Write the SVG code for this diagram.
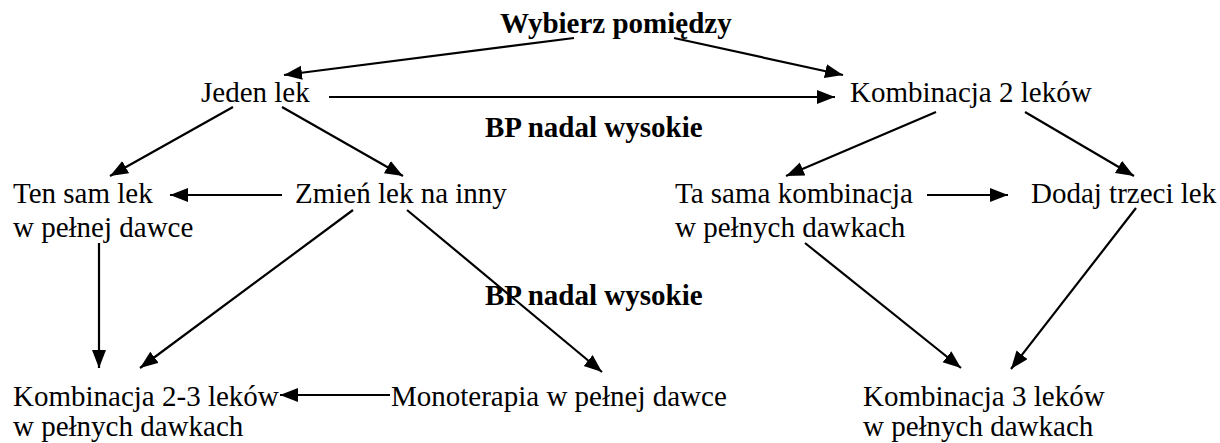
<svg xmlns="http://www.w3.org/2000/svg" width="1220" height="443" viewBox="0 0 1220 443">
<defs>
<style>
text{font-family:"Liberation Serif","Times New Roman",serif;font-size:29px;fill:#000}
.b{font-weight:bold}
.c line{stroke:#000;stroke-width:2.2;marker-end:url(#ah)}
</style>
<marker id="ah" markerUnits="userSpaceOnUse" markerWidth="20" markerHeight="16" refX="18" refY="7" orient="auto">
<path d="M0,0 L18,7 L0,14 z" fill="#000"/>
</marker>
</defs>
<rect width="1220" height="443" fill="#fff"/>
<g id="wybierz"><text class="b" x="500" y="33">Wybierz pomiędzy</text></g>
<g id="jeden"><text x="201" y="102">Jeden lek</text></g>
<g id="komb2"><text x="850" y="102">Kombinacja 2 leków</text></g>
<g id="bp1"><text class="b" x="485" y="137">BP nadal wysokie</text></g>
<g id="tensam"><text x="13" y="203">Ten sam lek</text><text x="13" y="237">w pełnej dawce</text></g>
<g id="zmien"><text x="295" y="203">Zmień lek na inny</text></g>
<g id="tasama"><text x="675" y="203">Ta sama kombinacja</text><text x="675" y="237">w pełnych dawkach</text></g>
<g id="dodaj"><text x="1031" y="203">Dodaj trzeci lek</text></g>
<g id="bp2"><text class="b" x="485" y="305">BP nadal wysokie</text></g>
<g id="komb23"><text x="13" y="406">Kombinacja 2-3 leków</text><text x="13" y="436">w pełnych dawkach</text></g>
<g id="mono"><text x="391" y="406">Monoterapia w pełnej dawce</text></g>
<g id="komb3"><text x="863" y="406">Kombinacja 3 leków</text><text x="863" y="436">w pełnych dawkach</text></g>
<g id="connectors" class="c">
<line x1="574" y1="38" x2="284" y2="75"/>
<line x1="674" y1="38" x2="843" y2="75"/>
<line x1="329" y1="97" x2="835" y2="97"/>
<line x1="233" y1="107" x2="110" y2="176"/>
<line x1="282" y1="107" x2="403" y2="176"/>
<line x1="936" y1="112" x2="786" y2="176"/>
<line x1="1025" y1="112" x2="1134" y2="176"/>
<line x1="282" y1="195" x2="170" y2="195"/>
<line x1="927" y1="195" x2="1008" y2="195"/>
<line x1="99" y1="243" x2="99" y2="368"/>
<line x1="353" y1="210" x2="140" y2="368"/>
<line x1="407" y1="210" x2="602" y2="372"/>
<line x1="805" y1="243" x2="961" y2="368"/>
<line x1="1136" y1="208" x2="1011" y2="369"/>
<line x1="390" y1="395" x2="280" y2="395"/>
</g>
</svg>
